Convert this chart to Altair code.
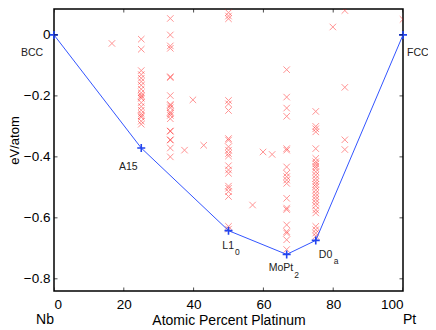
import altair as alt
import pandas as pd

# ---------------- data ----------------
comp_25 = [-0.014, -0.047, -0.117, -0.13, -0.142, -0.153, -0.165, -0.178, -0.19,
           -0.198, -0.203, -0.208, -0.222, -0.235, -0.247, -0.258, -0.265, -0.27,
           -0.283, -0.293]
comp_33 = [0.054, 0.0, -0.036, -0.044, -0.137, -0.14, -0.199, -0.228, -0.232,
           -0.239, -0.253, -0.258, -0.264, -0.275, -0.315, -0.316, -0.344, -0.345,
           -0.371, -0.40]
comp_50 = [0.073, 0.062, 0.053, -0.215, -0.226, -0.248, -0.34, -0.345, -0.367,
           -0.378, -0.389, -0.397, -0.429, -0.443, -0.454, -0.496, -0.503, -0.514,
           -0.53, -0.628, -0.637]
comp_67 = [-0.114, -0.204, -0.24, -0.267, -0.373, -0.378, -0.433, -0.454, -0.465,
           -0.476, -0.487, -0.536, -0.568, -0.573, -0.623, -0.645, -0.65, -0.672,
           -0.704]
comp_75 = [-0.251, -0.300, -0.308, -0.318, -0.373, -0.405, -0.416, -0.423, -0.431,
           -0.438, -0.449, -0.46, -0.471, -0.481, -0.49, -0.498, -0.509, -0.52,
           -0.53, -0.54, -0.55, -0.56, -0.574, -0.584, -0.628, -0.639, -0.65, -0.66]
comp_83 = [0.08, -0.172, -0.344, -0.376]
other_x = [16.6, 39.8, 37.4, 42.9, 59.9, 62.5, 79.9, 56.9, 100.0]
other_e = [-0.028, -0.213, -0.378, -0.362, -0.384, -0.392, 0.026, -0.558, 0.051]

hull_x = [0, 25, 50, 66.67, 75, 100]
hull_e = [0, -0.371, -0.642, -0.72, -0.674, 0]
hull_name = ["BCC", "A15", "L1", "MoPt", "D0", "FCC"]
hull_sub = ["", "", "0", "2", "a", ""]

x_ticks = [0, 20, 40, 60, 80, 100]
y_ticks = [-0.8, -0.6, -0.4, -0.2, 0]
x_domain = [0, 100]
y_domain = [-0.84, 0.085]
end_x = [0, 100]
end_names = ["Nb", "Pt"]

# ---------------- tables ----------------
xs, es = [], []
for c, vals in [(25, comp_25), (33.33, comp_33), (50, comp_50), (66.67, comp_67),
                (75, comp_75), (83.33, comp_83)]:
    xs += [c] * len(vals)
    es += vals
xs += other_x
es += other_e
scatter_df = pd.DataFrame({"x": xs, "e": es})
hull_df = pd.DataFrame({"x": hull_x, "e": hull_e, "name": hull_name, "sub": hull_sub})
end_df = pd.DataFrame({"x": end_x, "e": [y_domain[0]] * 2, "t": end_names})
xt_df = pd.DataFrame({"x": x_ticks * 2,
                      "e": [y_domain[0]] * len(x_ticks) + [y_domain[1]] * len(x_ticks)})
yt_df = pd.DataFrame({"x": [x_domain[0]] * len(y_ticks) + [x_domain[1]] * len(y_ticks),
                      "e": y_ticks * 2})

FONT = "Liberation Sans"
xscale = alt.Scale(domain=x_domain, nice=False, zero=False)
yscale = alt.Scale(domain=y_domain, nice=False, zero=False)
xaxis = alt.Axis(values=x_ticks, title="Atomic Percent Platinum", labelPadding=6,
                 titleY=29, titleBaseline="middle", titleFontSize=14)
yaxis = alt.Axis(values=y_ticks, title="eV/atom", labelPadding=4,
                 titleX=-33, titleY=131, titleAngle=270, titleBaseline="bottom",
                 titleAlign="center",
                 labelExpr="datum.value == 0 ? '0' : format(datum.value, '.1f')",
                 titleFontSize=13)


def X():
    return alt.X("x:Q", scale=xscale, axis=xaxis)


def Y():
    return alt.Y("e:Q", scale=yscale, axis=yaxis)


scatter = alt.Chart(scatter_df).mark_point(
    shape="M-1,-1L1,1M-1,1L1,-1", size=42, strokeWidth=1, color="#ff0000",
    opacity=0.42, filled=False, clip=True
).encode(x=X(), y=Y())

line = alt.Chart(hull_df).mark_line(color="#3355ff", strokeWidth=1).encode(x=X(), y=Y())
pts = alt.Chart(hull_df).mark_point(
    shape="M-1,0L1,0M0,-1L0,1", size=64, strokeWidth=1.6, color="#2244ee",
    opacity=1, filled=False
).encode(x=X(), y=Y())

# label styles: name -> (align, dx, dy) for main text, (dx, dy) for subscript
main_style = {
    "BCC": ("center", -22, 18),
    "FCC": ("left", 4, 18),
    "A15": ("center", -13, 19),
    "L1": ("right", 5.5, 15),
    "MoPt": ("right", 6.5, 14),
    "D0": ("right", 16.5, 15),
}
sub_style = {"L1": (6.5, 21.5), "MoPt": (7.5, 20.5), "D0": (18, 21)}

labels = []
for nm, (al, dx, dy) in main_style.items():
    labels.append(alt.Chart(hull_df).transform_filter(alt.datum.name == nm).mark_text(
        align=al, baseline="middle", dx=dx, dy=dy, font=FONT, fontSize=10.5, color="#222222"
    ).encode(x=X(), y=Y(), text="name:N"))
for nm, (dx, dy) in sub_style.items():
    labels.append(alt.Chart(hull_df).transform_filter(alt.datum.name == nm).mark_text(
        align="left", baseline="middle", dx=dx, dy=dy, font=FONT, fontSize=8.5, color="#222222"
    ).encode(x=X(), y=Y(), text="sub:N"))

ends = []
for t, al in zip(end_names, ["right", "left"]):
    ends.append(alt.Chart(end_df).transform_filter(alt.datum.t == t).mark_text(
        align=al, baseline="middle", dy=29, font=FONT, fontSize=14, color="black"
    ).encode(x=X(), y=Y(), text="t:N"))

xticks = alt.Chart(xt_df).mark_tick(orient="vertical", size=7, thickness=1,
                                    color="black", clip=True).encode(x=X(), y=Y())
yticks = alt.Chart(yt_df).mark_tick(orient="horizontal", size=7, thickness=1,
                                    color="black", clip=True).encode(x=X(), y=Y())

chart = alt.layer(scatter, line, pts, xticks, yticks, *labels, *ends).properties(
    width=349, height=282, padding={"left": 46, "top": 1, "right": 25, "bottom": 38},
    autosize=alt.AutoSizeParams(type="none")
).configure_view(stroke="black", strokeWidth=1.5).configure_axis(
    grid=False, domain=False, ticks=False, labelFont=FONT, titleFont=FONT,
    labelFontSize=13.5, labelColor="black", titleColor="black", titleFontWeight="normal"
)

chart.save("out.html", embed_options={"renderer": "svg", "actions": False})
